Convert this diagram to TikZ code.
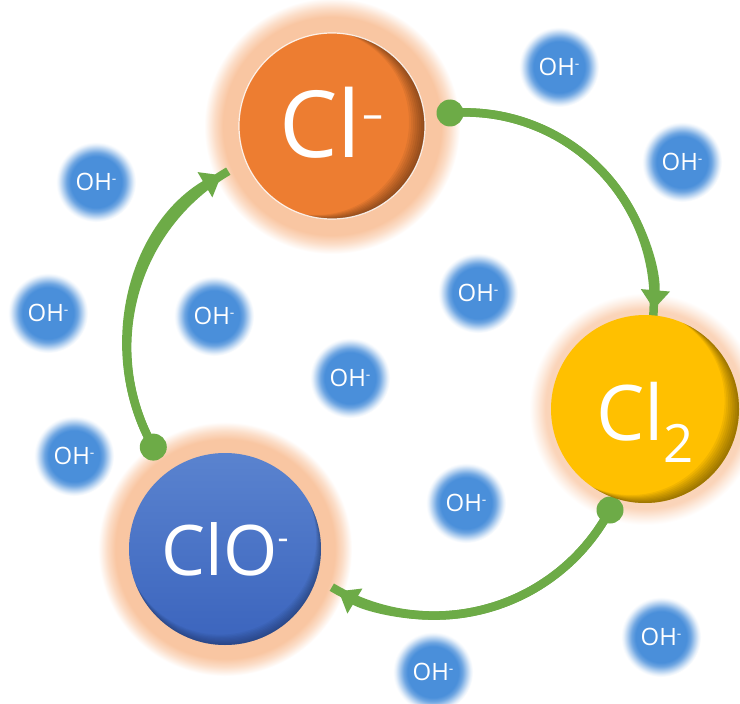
\documentclass[tikz,border=0pt]{standalone}
\usepackage{fontspec}
\setmainfont{Open Sans}
\usetikzlibrary{arrows.meta,calc}

\definecolor{orangeC}{HTML}{ED7D31}
\definecolor{goldC}{HTML}{FFC000}
\definecolor{blueTop}{HTML}{5A83CF}
\definecolor{blueBot}{HTML}{3B64BD}
\definecolor{glowC}{HTML}{F9C6A2}
\definecolor{blobC}{HTML}{4A8FDA}
\definecolor{arrowC}{HTML}{6DAB47}

\pgfdeclareradialshading{blobsh}{\pgfpointorigin}{color(0bp)=(blobC); color(16bp)=(blobC); color(18.5bp)=(blobC!80!white); color(21bp)=(blobC!45!white); color(23.5bp)=(blobC!12!white); color(25bp)=(white); color(50bp)=(white)}
\pgfdeclareradialshading{glowAsh}{\pgfpointorigin}{color(0bp)=(glowC); color(21.3bp)=(glowC); color(23bp)=(glowC!60!white); color(24.3bp)=(glowC!20!white); color(25bp)=(white); color(50bp)=(white)}
\pgfdeclareradialshading{glowBsh}{\pgfpointorigin}{color(0bp)=(glowC!80!white); color(21.5bp)=(glowC!75!white); color(23.2bp)=(glowC!35!white); color(24.4bp)=(glowC!10!white); color(25bp)=(white); color(50bp)=(white)}
\pgfdeclareradialshading{glowCsh}{\pgfpointorigin}{color(0bp)=(glowC); color(21.6bp)=(glowC); color(23.2bp)=(glowC!60!white); color(24.4bp)=(glowC!20!white); color(25bp)=(white); color(50bp)=(white)}

\newcommand{\ohtext}{OH{\fontsize{14}{14}\selectfont\raisebox{7.5bp}{-}}}
\newcommand{\myinnershadow}[5]{%
  \begin{scope}
    \clip (#1) circle[radius=#2];
    \foreach \k in {1,...,8}{
      \fill[black, fill opacity=#5, even odd rule] (#1) circle[radius=#2+6] ($(#1)+(-#3*\k,-#4*\k)$) circle[radius=#2];
    }
  \end{scope}}

\tikzset{
  ohlabel/.style={text=white, font=\fontsize{24}{24}\selectfont, inner sep=0pt},
  ionlabel/.style={text=white, inner sep=0pt, anchor=base},
  conn/.style={draw=arrowC, line width=8.5bp},
  tipped/.style={conn, shorten >=8bp, -{Triangle[length=19bp,width=28bp]}},
  dotc/.style={fill=arrowC},
}

\begin{document}
\begin{tikzpicture}[x=1bp,y=-1bp]
\useasboundingbox (0,0) rectangle (740,704);
\fill[white] (0,0) rectangle (740,704);

% hydroxide blobs
\foreach \i/\x/\y in {1/559/67, 2/682/162, 3/96/182, 4/478/293, 5/48/313, 6/214/316, 7/350/378, 8/74/456, 9/466/503, 10/661/637, 11/433/672}{
  \shade[shading=blobsh] (\x,\y) circle[radius=40];
  \node[ohlabel] (oh\i) at (\x,\y) {\ohtext};
}

% centres
\coordinate (cClm) at (332,126);
\coordinate (cCl2) at (645,409);
\coordinate (cClo) at (225,549);

% glows
\shade[shading=glowAsh] (cClm) circle[radius=128];
\shade[shading=glowBsh] (cCl2) circle[radius=116];
\shade[shading=glowCsh] (cClo) circle[radius=127];

% connectors
\coordinate (d1) at (450,113);
\coordinate (d2) at (610,510);
\coordinate (d3) at (153.3,447.1);
\draw[conn] (d1) arc[start angle=-94.5, end angle=4.8, radius=189];
\draw[tipped] (d1) arc[start angle=-94.5, end angle=4.8, radius=189];
\draw[conn] (d2) arc[start angle=28, end angle=121, radius=199];
\draw[tipped] (d2) arc[start angle=28, end angle=121, radius=199];
\draw[conn] (d3) arc[start angle=150.7, end angle=239.7, radius=204];
\draw[tipped] (d3) arc[start angle=150.7, end angle=239.7, radius=204];
\fill[dotc] (d1) circle[radius=13.5];
\fill[dotc] (d2) circle[radius=13.5];
\fill[dotc] (d3) circle[radius=13.5];

% main circles
\fill[orangeC] (cClm) circle[radius=93];
\myinnershadow{cClm}{93}{2.0}{0.5}{0.055}
\draw[white, line width=1.2bp, draw opacity=0.85] (cClm) circle[radius=93];

\fill[goldC] (cCl2) circle[radius=94];
\myinnershadow{cCl2}{94}{1.8}{1}{0.055}

\shade[top color=blueTop, bottom color=blueBot] (cClo) circle[radius=96];
\myinnershadow{cClo}{96}{0.6}{1.3}{0.035}

% labels
\node[ionlabel, font=\fontsize{93}{93}\selectfont] (tClm) at (332,157) {Cl{\fontsize{45}{45}\selectfont\raisebox{27.5bp}{\scalebox{1.6}[1]{-}}}};
\node[ionlabel, font=\fontsize{77}{77}\selectfont] (tCl2) at (645,440) {Cl{\fontsize{53}{53}\selectfont\raisebox{-22bp}{2}}};
\node[ionlabel, font=\fontsize{70}{70}\selectfont] (tClo) at (225,575) {ClO{\fontsize{34}{34}\selectfont\raisebox{26bp}{-}}};
\end{tikzpicture}
\end{document}
